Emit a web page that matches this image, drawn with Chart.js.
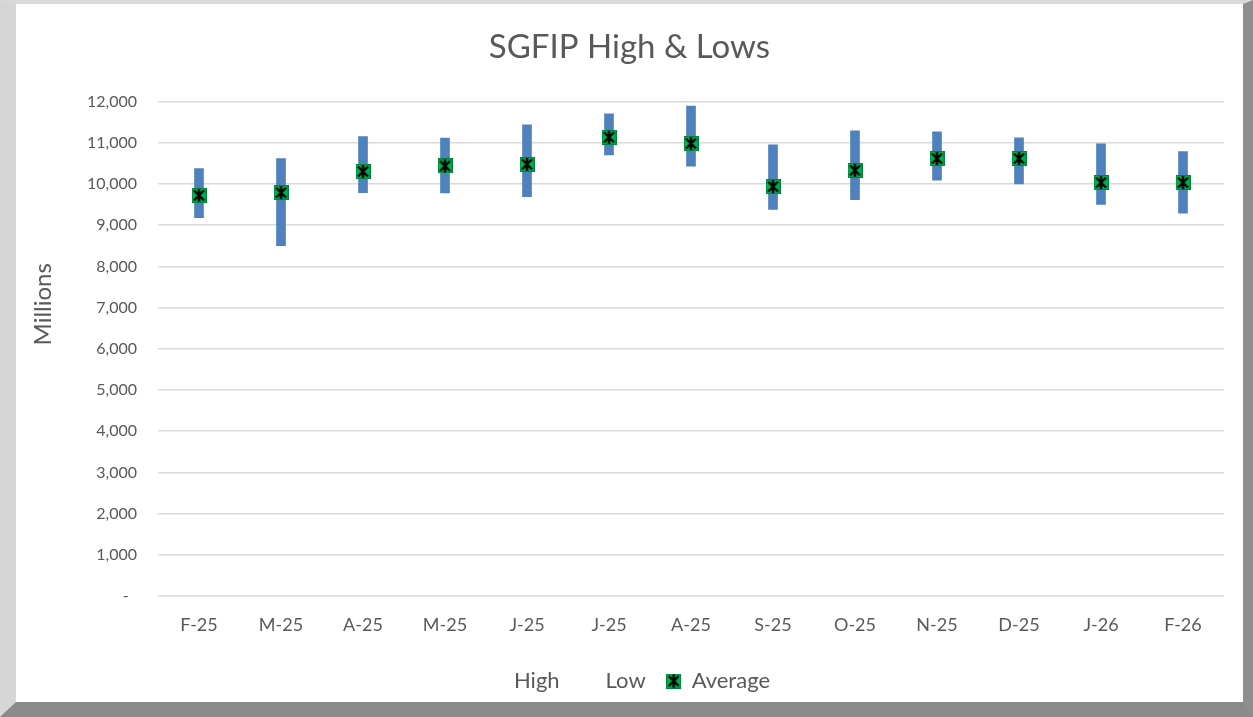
<!doctype html>
<html lang="en">
  <head>
    <meta charset="utf-8">
    <title>SGFIP High &amp; Lows</title>
    <style>
      * { margin: 0; padding: 0; }
      body { background: #fff; width: 1253px; height: 717px; overflow: hidden; }
      .frame {
        position: absolute; left: 0; top: 0;
        width: 1227px; height: 698px;
        background: #fff;
        border-top: 4px solid #dadada;
        border-left: 16px solid #d6d6d6;
        border-right: 10px solid #8e8e8e;
        border-bottom: 15px solid #8a8a8a;
      }
      .chartBox { position: absolute; left: 0; top: 0; width: 1227px; height: 698px; }
    </style>
  </head>
  <body>
    <div class="frame">
      <div class="chartBox">
        <canvas id="myChart" width="1227" height="698"></canvas>
      </div>
    </div>

    <script src="https://cdn.jsdelivr.net/npm/chart.js"></script>
    <script>
    // data
    const months = ['F-25', 'M-25', 'A-25', 'M-25', 'J-25', 'J-25', 'A-25', 'S-25', 'O-25', 'N-25', 'D-25', 'J-26', 'F-26'];
    const highs = [10375, 10618, 11154, 11112, 11438, 11706, 11889, 10949, 11292, 11268, 11122, 10976, 10788];
    const lows = [9182, 8506, 9790, 9781, 9693, 10708, 10431, 9384, 9620, 10090, 10000, 9506, 9294];
    const averages = [9725, 9790, 10302, 10438, 10479, 11136, 10983, 9937, 10333, 10618, 10618, 10034, 10034];

    const textColor = '#595959';
    const fontFamily = 'Lato, "Open Sans", sans-serif';

    // star marker on a green square, like the excel one
    const marker = document.createElement('canvas');
    marker.width = 15;
    marker.height = 15;
    const m = marker.getContext('2d');
    m.fillStyle = '#00b050';
    m.fillRect(0, 0, 15, 15);
    m.strokeStyle = 'rgba(0,0,0,0.25)';
    m.lineWidth = 1;
    m.strokeRect(0.5, 0.5, 14, 14);
    m.strokeStyle = '#000';
    m.lineWidth = 2.4;
    m.beginPath();
    m.moveTo(2.5, 2.5); m.lineTo(12.5, 12.5);
    m.moveTo(12.5, 2.5); m.lineTo(2.5, 12.5);
    m.moveTo(7.5, 1); m.lineTo(7.5, 14);
    m.stroke();

    // y axis title sits a bit above the middle, as in excel
    const yTitle = {
      id: 'yTitle',
      afterDraw(chart) {
        const { ctx, chartArea: { top, height } } = chart;
        ctx.save();
        ctx.translate(27, top + height * 0.41);
        ctx.rotate(-Math.PI / 2);
        ctx.font = '24px ' + fontFamily;
        ctx.fillStyle = textColor;
        ctx.textAlign = 'center';
        ctx.textBaseline = 'middle';
        ctx.fillText('Millions', 0, 0);
        ctx.restore();
      }
    };

    const data = {
      labels: months,
      datasets: [
        {
          label: 'High',
          type: 'line',
          data: highs,
          showLine: false,
          pointRadius: 0,
          pointStyle: 'rect',
          borderColor: 'rgba(0,0,0,0)',
          backgroundColor: 'rgba(0,0,0,0)',
          order: 0
        },
        {
          label: 'Low',
          type: 'line',
          data: lows,
          showLine: false,
          pointRadius: 0,
          pointStyle: 'rect',
          borderColor: 'rgba(0,0,0,0)',
          backgroundColor: 'rgba(0,0,0,0)',
          order: 0
        },
        {
          label: 'Average',
          type: 'line',
          data: averages,
          showLine: false,
          pointStyle: marker,
          pointRadius: 7,
          borderColor: '#000',
          backgroundColor: '#00b050',
          order: 0
        },
        {
          label: 'range',
          type: 'bar',
          data: months.map((_, i) => [lows[i], highs[i]]),
          backgroundColor: '#4f81bd',
          borderWidth: 0,
          borderSkipped: false,
          barThickness: 9,
          order: 1
        }
      ]
    };

    const config = {
      type: 'bar',
      data,
      options: {
        responsive: false,
        animation: false,
        layout: { padding: 0 },
        plugins: {
          title: {
            display: true,
            text: 'SGFIP High & Lows',
            color: textColor,
            font: { family: fontFamily, size: 33, weight: 'normal' },
            padding: { top: 24, bottom: 34 }
          },
          legend: {
            position: 'bottom',
            labels: {
              color: textColor,
              font: { family: fontFamily, size: 22 },
              usePointStyle: true,
              boxWidth: 14,
              boxHeight: 14,
              padding: 21,
              filter: item => item.text !== 'range'
            }
          },
          tooltip: { enabled: false }
        },
        scales: {
          x: {
            offset: true,
            grid: { display: false, drawTicks: false },
            border: { display: false },
            ticks: {
              color: textColor,
              font: { family: fontFamily, size: 18 },
              padding: 18,
              maxRotation: 0,
              autoSkip: false
            },
            afterFit(scale) { scale.height = 53; }
          },
          y: {
            min: 0,
            max: 12000,
            grid: { color: '#d9d9d9', lineWidth: 1.5, drawTicks: false },
            border: { display: false },
            ticks: {
              stepSize: 1000,
              color: textColor,
              font: { family: fontFamily, size: 16 },
              padding: 21,
              callback: v => v === 0 ? '-  ' : v.toLocaleString('en-US')
            },
            afterFit(scale) { scale.width = 142; }
          },
          // empty strip on the right so the title and legend stay centred on the whole box
          yRight: {
            position: 'right',
            display: true,
            min: 0,
            max: 12000,
            grid: { display: false, drawTicks: false },
            border: { display: false },
            ticks: { display: false },
            afterFit(scale) { scale.width = 19; }
          }
        }
      },
      plugins: [yTitle]
    };

    const myChart = new Chart(document.getElementById('myChart'), config);
    </script>
  </body>
</html>
